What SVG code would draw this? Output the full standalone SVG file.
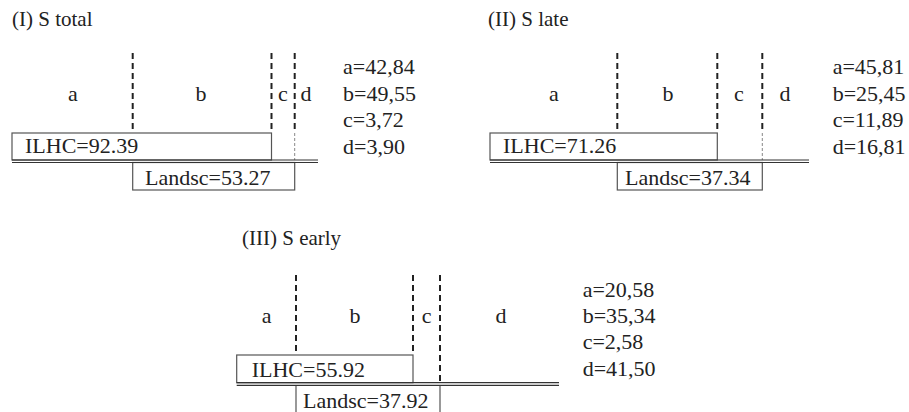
<svg xmlns="http://www.w3.org/2000/svg" width="909" height="412" viewBox="0 0 909 412" font-family="Liberation Serif, Times New Roman, serif">
<style>
text{font-family:'Liberation Serif','Times New Roman',serif;font-size:22px;fill:#222}
.t{font-size:21px}
.m{text-anchor:middle}
.box{fill:none;stroke:#555;stroke-width:1.2}
.dash{stroke:#222;stroke-width:2;stroke-dasharray:6 4;fill:none}
.thin{stroke:#888;stroke-width:1;stroke-dasharray:3 2;fill:none}
.dbl{stroke:#333;stroke-width:1.2;fill:none}
</style>
<rect width="909" height="412" fill="#fff"/>

<g id="panel-I">
  <text class="t" x="12" y="26">(I) S total</text>
  <g id="I-labels">
    <text class="m" x="73" y="101">a</text>
    <text class="m" x="201" y="101">b</text>
    <text class="m" x="283" y="101">c</text>
    <text class="m" x="306" y="101">d</text>
  </g>
  <g id="I-ILHC">
    <rect class="box" x="12" y="133" width="259.5" height="27"/>
    <text x="25" y="153">ILHC=92.39</text>
  </g>
  <g id="I-Landsc">
    <rect class="box" x="132.7" y="162.5" width="162" height="27.5"/>
    <text x="145" y="185">Landsc=53.27</text>
  </g>
  <g id="I-values">
    <text x="343" y="74">a=42,84</text>
    <text x="343" y="100.7">b=49,55</text>
    <text x="343" y="127">c=3,72</text>
    <text x="343" y="154">d=3,90</text>
  </g>
</g>

<g id="panel-II">
  <text class="t" x="488" y="26">(II) S late</text>
  <g id="II-labels">
    <text class="m" x="554" y="101">a</text>
    <text class="m" x="668" y="101">b</text>
    <text class="m" x="739" y="101">c</text>
    <text class="m" x="785" y="101">d</text>
  </g>
  <g id="II-ILHC">
    <rect class="box" x="490" y="133" width="227.3" height="27"/>
    <text x="503" y="153">ILHC=71.26</text>
  </g>
  <g id="II-Landsc">
    <rect class="box" x="617.3" y="162.5" width="145" height="27.5"/>
    <text x="625" y="185">Landsc=37.34</text>
  </g>
  <g id="II-values">
    <text x="832.7" y="74">a=45,81</text>
    <text x="832.7" y="100.7">b=25,45</text>
    <text x="832.7" y="127">c=11,89</text>
    <text x="832.7" y="154">d=16,81</text>
  </g>
</g>

<g id="panel-III">
  <text class="t" x="242" y="245">(III) S early</text>
  <g id="III-labels">
    <text class="m" x="266.7" y="323">a</text>
    <text class="m" x="355" y="323">b</text>
    <text class="m" x="426.7" y="323">c</text>
    <text class="m" x="501" y="323">d</text>
  </g>
  <g id="III-ILHC">
    <rect class="box" x="236.7" y="355" width="176.3" height="27.7"/>
    <text x="251.7" y="376.7">ILHC=55.92</text>
  </g>
  <g id="III-Landsc">
    <path class="box" d="M296,385.5 V413 M440,385.5 V413"/>
    <text x="303" y="408">Landsc=37.92</text>
  </g>
  <g id="III-values">
    <text x="582.7" y="297.3">a=20,58</text>
    <text x="582.7" y="323.3">b=35,34</text>
    <text x="582.7" y="349.3">c=2,58</text>
    <text x="582.7" y="376">d=41,50</text>
  </g>
</g>

<g id="connectors">
  <path class="dash" d="M132.7,53 V133 M271.5,53 V133 M294.7,53 V133"/>
  <path class="thin" d="M294.7,133 V160"/>
  <path class="dbl" d="M12,160 H318 M12,162.5 H318"/>

  <path class="dash" d="M617.3,53 V133 M717.3,53 V133 M762.3,53 V133"/>
  <path class="thin" d="M762.3,133 V160"/>
  <path class="dbl" d="M490,160 H809 M490,162.5 H809"/>

  <path class="dash" d="M296,275 V355 M413,275 V355 M440,275 V382.7"/>
  <path class="dbl" d="M236.7,382.7 H559 M236.7,385.3 H559"/>
</g>
</svg>
